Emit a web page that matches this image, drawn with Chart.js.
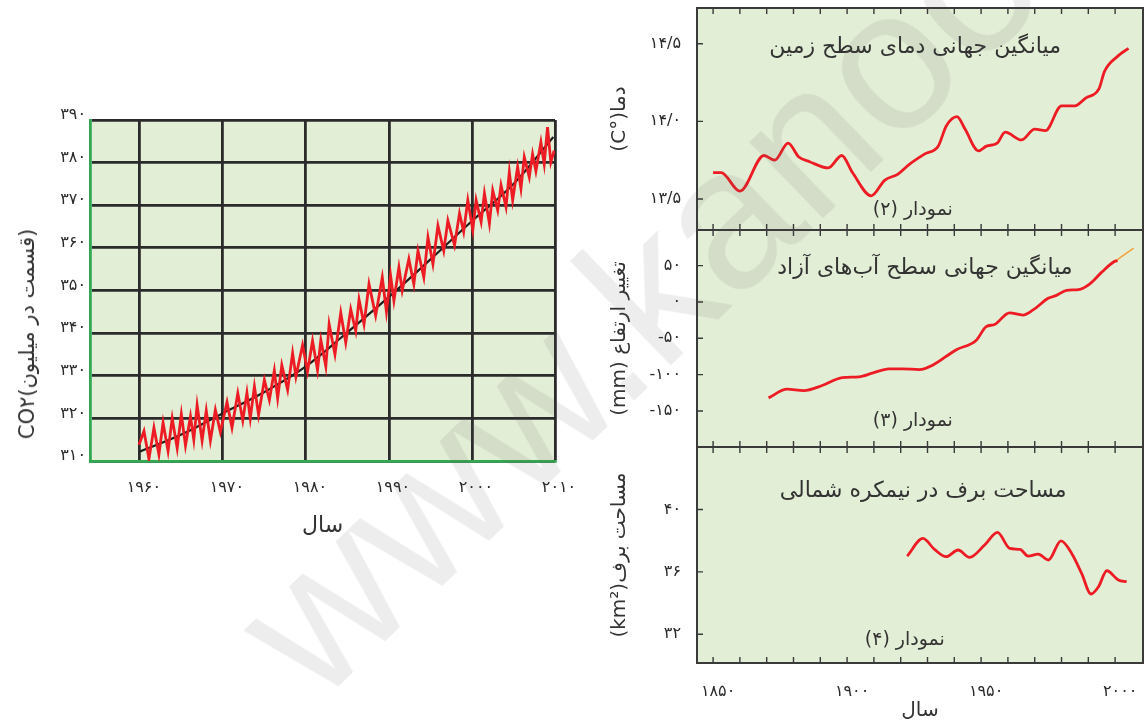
<!DOCTYPE html>
<html lang="fa">
<head>
    <meta charset="UTF-8">
    <title>CO2، دما، سطح آب‌های آزاد و مساحت برف</title>
    <script src="https://cdn.jsdelivr.net/npm/chart.js@4.4.4/dist/chart.umd.min.js"></script>
    <style>
        body { margin: 0; background: #fff; }
        #page { position: relative; width: 1148px; height: 721px; overflow: hidden; }
        canvas { position: absolute; }
        #co2-axis-title {
            position: absolute; left: 27px; top: 334px;
            transform: translate(-50%, -50%) rotate(-90deg);
            font: 21px "DejaVu Sans", sans-serif; color: #333; white-space: nowrap;
        }
        .watermark {
            position: absolute; left: 200px; top: 585px;
            font: 200px "Liberation Sans", sans-serif; line-height: 1;
            color: rgba(80, 80, 80, 0.1); white-space: nowrap;
            transform-origin: 0 0; transform: rotate(-44deg); pointer-events: none;
        }
    </style>
</head>
<body>
<div id="page">
    <canvas id="co2-chart" width="590" height="471" style="left:0;top:90px"></canvas>
    <div id="co2-axis-title" dir="ltr">CO۲(قسمت در میلیون)</div>
    <canvas id="temp-chart" dir="rtl" width="548" height="240" style="left:600px;top:0"></canvas>
    <canvas id="sea-chart" dir="rtl" width="548" height="237" style="left:600px;top:220px"></canvas>
    <canvas id="snow-chart" dir="rtl" width="548" height="290" style="left:600px;top:437px"></canvas>
    <div class="watermark">www.kanoon.ir</div>
</div>

<script>
// --- داده‌ها: غلظت CO2 (نوسان فصلی و روند میانگین)
const co2Years = [1959.9, 1960.5, 1961.1, 1961.7, 1962.3, 1962.8, 1963.4, 1963.9, 1964.5, 1965.0,
    1965.5, 1966.1, 1966.5, 1966.9, 1967.5, 1968.0, 1968.5, 1969.1, 1969.7, 1970.5,
    1971.1, 1971.8, 1972.4, 1972.9, 1973.3, 1973.8, 1974.3, 1975.0, 1975.6, 1976.2,
    1976.6, 1977.1, 1977.8, 1978.4, 1978.8, 1979.6, 1980.2, 1980.8, 1981.4, 1981.8,
    1982.4, 1982.8, 1983.5, 1984.2, 1984.8, 1985.4, 1986.0, 1986.4, 1987.0, 1987.6,
    1988.4, 1989.2, 1989.7, 1990.2, 1990.6, 1991.2, 1991.6, 1992.4, 1993.0, 1993.5,
    1994.2, 1994.7, 1995.3, 1995.9, 1996.6, 1997.1, 1997.9, 1998.5, 1999.0, 1999.5,
    2000.1, 2000.5, 2001.1, 2001.5, 2002.1, 2002.5, 2003.1, 2003.5, 2004.1, 2004.5,
    2004.9, 2005.5, 2005.9, 2006.3, 2006.9, 2007.3, 2007.7, 2008.3, 2008.7, 2009.1,
    2009.5, 2009.9];
const co2Values = [313.8, 317.0, 310.5, 317.8, 311.5, 319.0, 312.3, 320.0, 313.0, 321.0,
    313.6, 320.5, 315.0, 323.1, 314.8, 321.8, 314.8, 322.0, 316.8, 323.8,
    317.8, 325.9, 319.5, 326.0, 320.0, 327.5, 320.8, 329.0, 324.3, 331.2,
    324.7, 332.5, 326.7, 335.3, 329.8, 337.2, 331.0, 338.2, 331.3, 338.4,
    332.2, 342.1, 335.0, 344.8, 337.8, 345.6, 340.5, 347.9, 342.1, 351.5,
    344.1, 353.1, 345.0, 353.5, 347.6, 355.4, 350.0, 357.4, 351.5, 359.3,
    353.1, 362.5, 356.2, 365.2, 359.3, 366.4, 360.6, 368.1, 363.8, 371.2,
    364.2, 371.2, 366.1, 372.8, 365.7, 373.5, 368.8, 374.7, 369.6, 377.8,
    371.2, 379.0, 373.9, 381.3, 376.6, 382.0, 378.0, 384.8, 379.7, 388.3,
    380.1, 382.8];
const co2TrendYears = [1960, 1965, 1970, 1975, 1980, 1985, 1990, 1995, 2000, 2005, 2009.8];
const co2TrendValues = [312.2, 316.2, 321.2, 326.2, 332.2, 340.2, 348.5, 357.3, 366.3, 375.0, 386.0];
const co2XTicks = [1960, 1970, 1980, 1990, 2000, 2010];
const co2YTicks = [310, 320, 330, 340, 350, 360, 370, 380, 390];

// --- نمودار (۲): میانگین جهانی دمای سطح زمین
const tempYears = [1850, 1853, 1860, 1869, 1873, 1878, 1882, 1886, 1893, 1898, 1902, 1909,
    1914, 1919, 1923, 1929, 1934, 1937, 1941, 1944, 1949, 1952, 1956, 1959, 1965, 1970,
    1974, 1980, 1985, 1989, 1994, 1996, 2001, 2005];
const tempValues = [13.67, 13.67, 13.55, 13.78, 13.75, 13.86, 13.77, 13.74, 13.70, 13.78, 13.67, 13.52,
    13.62, 13.66, 13.72, 13.79, 13.84, 13.97, 14.03, 13.95, 13.81, 13.84, 13.86, 13.93, 13.88, 13.95,
    13.94, 14.10, 14.10, 14.15, 14.21, 14.32, 14.42, 14.47];
const tempTicks = [13.5, 14.0, 14.5];

// --- نمودار (۳): میانگین جهانی سطح آب‌های آزاد
const seaYears = [1870.7, 1877.6, 1883.8, 1890.7, 1898.2, 1904.4, 1909.4, 1915.6, 1920.6, 1926.9,
    1931.9, 1940.6, 1948.1, 1951.9, 1955.0, 1960.6, 1965.6, 1969.4, 1975.0, 1978.1,
    1981.9, 1986.3, 1990.6, 1995.0, 1999.4, 2000.9];
const seaValues = [-132, -120, -122, -115, -104, -103, -98, -92, -92, -93,
    -87, -66, -53, -34, -31, -15, -18, -11, 5, 9,
    16, 17, 25, 41, 55, 57];
const satYears = [1996.5, 2001.9, 2006.9];
const satValues = [46, 61, 74];
const seaTicks = [-150, -100, -50, 0, 50];

// --- نمودار (۴): مساحت برف در نیمکره شمالی
const snowYears = [1922.4, 1928.3, 1932.6, 1937.0, 1941.4, 1945.7, 1951.3, 1956.1, 1960.7, 1964.5,
    1967.6, 1971.3, 1975.1, 1979.8, 1983.8, 1987.5, 1991.0, 1993.8, 1996.9, 2001.2, 2004.3];
const snowValues = [37.01, 38.14, 37.44, 36.97, 37.40, 36.93, 37.72, 38.53, 37.50, 37.44,
    37.01, 37.14, 36.76, 37.99, 37.18, 35.90, 34.58, 35.05, 36.07, 35.48, 35.37];
const snowTicks = [32, 36, 40];

// سال‌ها (تیک هر ده سال، برچسب هر پنجاه سال)
const yearTicks = [1850, 1860, 1870, 1880, 1890, 1900, 1910, 1920, 1930, 1940, 1950, 1960, 1970, 1980, 1990, 2000];

const FONT = '"DejaVu Sans", sans-serif';
const TEXT = '#333';
const TICK = '#2a2a2a';
const PLOT_BG = '#e2eed5';
const RED = '#ed1c24';

// اعداد فارسی
const faDigits = '۰۱۲۳۴۵۶۷۸۹';
function toFa(text) {
    return String(text).replace(/[0-9]/g, d => faDigits[d]).replace('.', '/');
}
// اعداد در متن راست‌به‌چپ (منفی‌ها به هم نریزند)
function ltr(text) {
    return '\u2066' + text + '\u2069';
}
function points(xs, ys) {
    return xs.map((x, i) => ({ x: x, y: ys[i] }));
}
function fixedTicks(list) {
    return scale => { scale.ticks = list.map(v => ({ value: v })); };
}

// پس‌زمینه، قاب، تیک‌های داخلی و متن‌های داخل نمودار
const panelPlugin = {
    id: 'panel',
    beforeDraw(chart, args, opts) {
        const { ctx, chartArea: a } = chart;
        ctx.save();
        ctx.fillStyle = opts.bg;
        ctx.fillRect(a.left, a.top, a.width, a.height);
        ctx.restore();
    },
    afterDraw(chart, args, opts) {
        const { ctx, chartArea: a, scales } = chart;
        ctx.save();
        if (opts.frame) {
            ctx.strokeStyle = '#3a3a3a';
            ctx.lineWidth = 1.4;
            ctx.beginPath();
            scales.x.ticks.forEach(t => {
                const px = scales.x.getPixelForValue(t.value);
                ctx.moveTo(px, a.top); ctx.lineTo(px, a.top + 6);
                ctx.moveTo(px, a.bottom); ctx.lineTo(px, a.bottom - 6);
            });
            scales.y.ticks.forEach(t => {
                const py = scales.y.getPixelForValue(t.value);
                ctx.moveTo(a.left, py); ctx.lineTo(a.left + 6, py);
            });
            ctx.stroke();
            ctx.lineWidth = 2;
            ctx.strokeRect(a.left, a.top, a.width, a.height);
        }
        (opts.texts || []).forEach(t => {
            ctx.font = t.size + 'px ' + FONT;
            ctx.fillStyle = TEXT;
            ctx.direction = 'rtl';
            ctx.textAlign = 'center';
            ctx.textBaseline = 'middle';
            const y = t.dy >= 0 ? a.top + t.dy : a.bottom + t.dy;
            ctx.fillText(t.text, a.left + a.width * t.fx, y);
        });
        ctx.restore();
    }
};

const common = {
    responsive: false,
    animation: false,
    devicePixelRatio: 1,
    events: []
};

// نمودار CO2
new Chart(document.getElementById('co2-chart'), {
    type: 'line',
    data: {
        datasets: [
            { data: points(co2Years, co2Values), borderColor: RED, borderWidth: 2.8, pointRadius: 0, tension: 0 },
            { data: points(co2TrendYears, co2TrendValues), borderColor: '#1e1e1e', borderWidth: 2.2, pointRadius: 0, tension: 0.4 }
        ]
    },
    options: {
        ...common,
        layout: { padding: { top: 30, right: 35 } },
        plugins: { legend: { display: false }, tooltip: { enabled: false }, panel: { bg: PLOT_BG, frame: false } },
        scales: {
            x: {
                type: 'linear', min: 1954, max: 2010,
                afterBuildTicks: fixedTicks(co2XTicks),
                afterFit: s => { s.height = 100; s.paddingLeft = 0; s.paddingRight = 0; },
                grid: { color: '#2b2b2b', lineWidth: 2.8, drawTicks: false },
                border: { color: '#33a853', width: 2.8 },
                ticks: { padding: 17, labelOffset: 4, color: TICK, font: { family: FONT, size: 16 }, callback: v => toFa(v) },
                title: { display: true, text: 'سال', color: TEXT, font: { family: FONT, size: 22 }, padding: { bottom: 22 } }
            },
            y: {
                type: 'linear', min: 310, max: 390,
                afterBuildTicks: fixedTicks(co2YTicks),
                afterFit: s => { s.width = 90; s.paddingTop = 0; s.paddingBottom = 0; },
                grid: { color: '#2b2b2b', lineWidth: 2.8, drawTicks: false },
                border: { color: '#33a853', width: 2.8 },
                ticks: { padding: 4, labelOffset: -5, color: TICK, font: { family: FONT, size: 16 }, callback: v => toFa(v) }
            }
        }
    },
    plugins: [panelPlugin]
});

// محور افقی مشترک نمودارهای سمت راست
function yearAxis(showLabels) {
    return {
        type: 'linear', min: 1844, max: 2010.4,
        afterBuildTicks: fixedTicks(yearTicks),
        afterFit: s => { s.height = showLabels ? 64 : 0; s.paddingLeft = 0; s.paddingRight = 0; },
        grid: { display: false },
        border: { display: false },
        ticks: {
            display: showLabels, autoSkip: false, maxRotation: 0, padding: 11, labelOffset: 5,
            color: TICK, font: { family: FONT, size: 16 },
            callback: v => (v % 50 === 0 ? ltr(toFa(v)) : '')
        },
        title: { display: showLabels, text: 'سال', color: TEXT, font: { family: FONT, size: 20 }, padding: { bottom: 4 } }
    };
}
function valueAxis(min, max, ticks, title, fmt) {
    return {
        type: 'linear', min: min, max: max,
        afterBuildTicks: fixedTicks(ticks),
        afterFit: s => { s.width = 97; s.paddingTop = 0; s.paddingBottom = 0; },
        grid: { display: false },
        border: { display: false },
        ticks: { padding: 8, color: TICK, font: { family: FONT, size: 16 }, callback: v => ltr(fmt(v)) },
        title: { display: true, text: title, color: TEXT, font: { family: FONT, size: 20 }, padding: { top: 8 } }
    };
}
function panelChart(id, datasets, yAxis, showYears, padding, texts) {
    return new Chart(document.getElementById(id), {
        type: 'line',
        data: { datasets: datasets },
        options: {
            ...common,
            layout: { padding: padding },
            plugins: { legend: { display: false }, tooltip: { enabled: false }, panel: { bg: PLOT_BG, frame: true, texts: texts } },
            scales: { x: yearAxis(showYears), y: yAxis }
        },
        plugins: [panelPlugin]
    });
}
const redLine = { borderColor: RED, borderWidth: 2.8, pointRadius: 0, tension: 0.4, cubicInterpolationMode: 'monotone' };

panelChart('temp-chart',
    [{ ...redLine, data: points(tempYears, tempValues) }],
    valueAxis(13.30, 14.73, tempTicks, 'دما(°C)', v => toFa(v.toFixed(1))),
    false, { top: 8, bottom: 10, right: 5 },
    [{ text: 'میانگین جهانی دمای سطح زمین', size: 22, fx: 0.489, dy: 39 },
     { text: 'نمودار (۲)', size: 19, fx: 0.484, dy: -20 }]);

panelChart('sea-chart',
    [{ ...redLine, data: points(seaYears, seaValues) },
     { data: points(satYears, satValues), borderColor: '#f4a03c', borderWidth: 1.4, pointRadius: 0, tension: 0.3 }],
    valueAxis(-199.6, 99, seaTicks, 'تغییر ارتفاع (mm)', v => toFa(v)),
    false, { top: 10, bottom: 10, right: 5 },
    [{ text: 'میانگین جهانی سطح آب‌های آزاد', size: 22, fx: 0.511, dy: 38 },
     { text: 'نمودار (۳)', size: 19, fx: 0.484, dy: -26 }]);

panelChart('snow-chart',
    [{ ...redLine, data: points(snowYears, snowValues) }],
    valueAxis(30.16, 44, snowTicks, 'مساحت برف(km²)', v => toFa(v)),
    true, { top: 10, right: 5 },
    [{ text: 'مساحت برف در نیمکره شمالی', size: 22, fx: 0.507, dy: 44 },
     { text: 'نمودار (۴)', size: 19, fx: 0.466, dy: -23 }]);
</script>
</body>
</html>
